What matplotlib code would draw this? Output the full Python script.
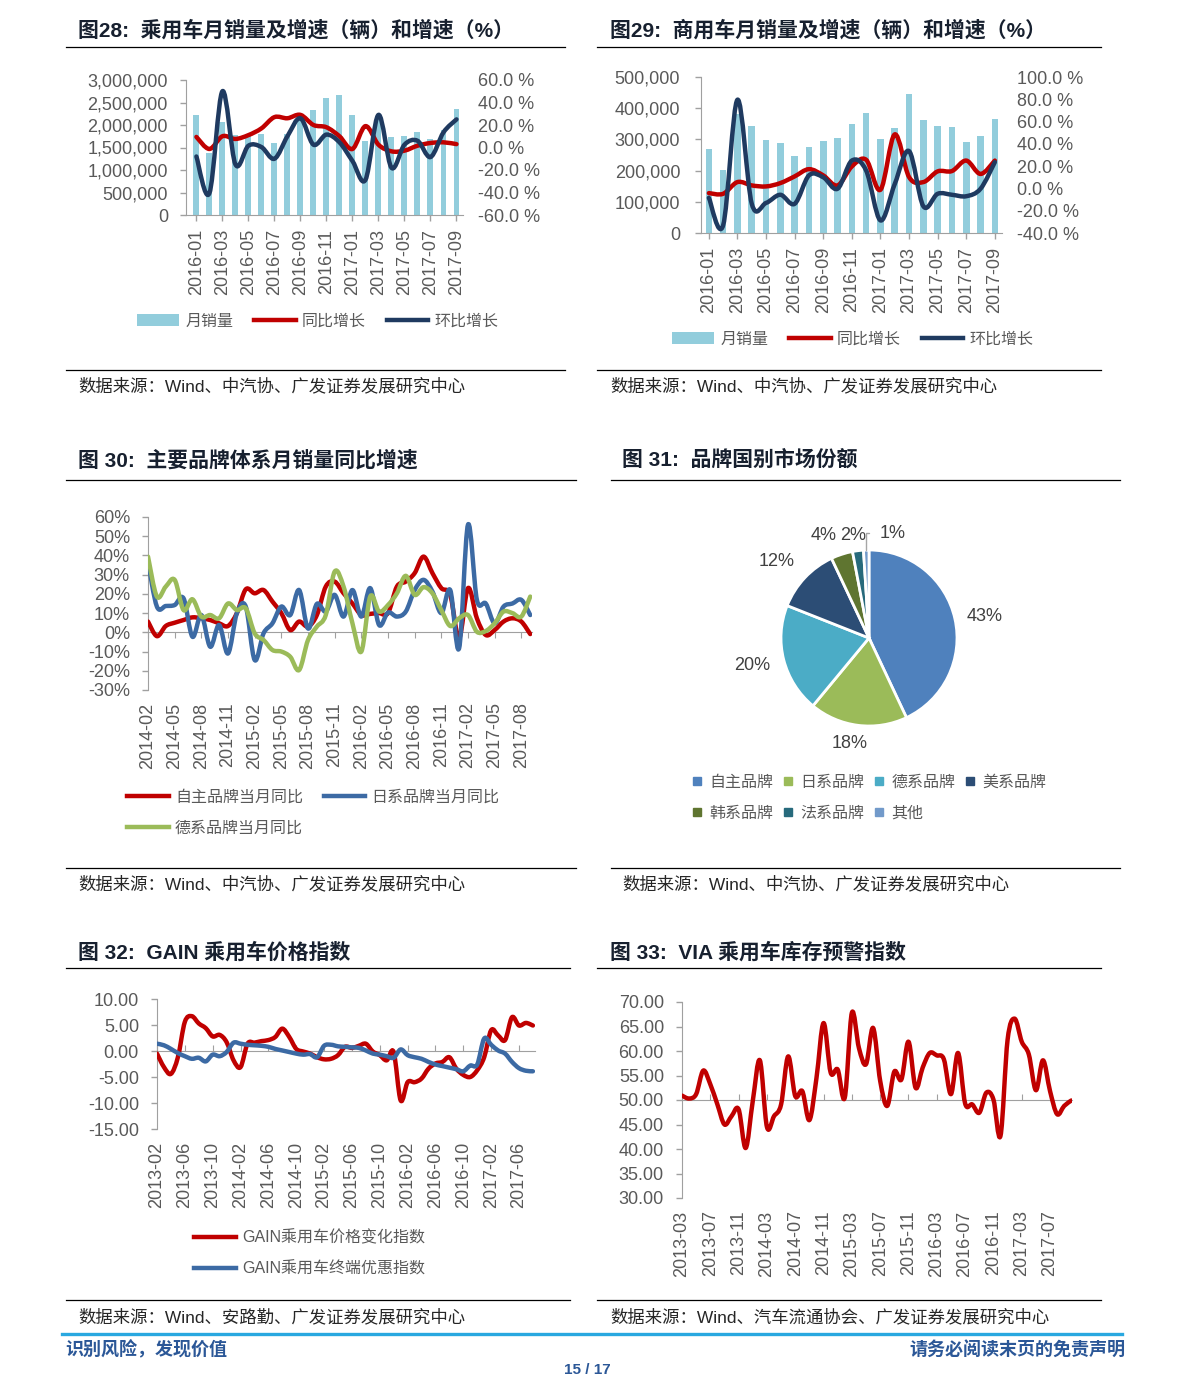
import numpy as np
import matplotlib.pyplot as plt
from matplotlib.path import Path
from matplotlib.patches import PathPatch, Patch
from matplotlib.lines import Line2D
from matplotlib.ticker import FuncFormatter

plt.rcParams['font.family'] = ['Liberation Sans', 'Noto Sans CJK SC']

W, H = 1191, 1379

# ---------------- data ----------------
# fig 28 / 29: 2016-01 .. 2017-09
ticks_1617 = ['2016-01', '2016-03', '2016-05', '2016-07', '2016-09', '2016-11',
              '2017-01', '2017-03', '2017-05', '2017-07', '2017-09']
pv_sales = [2230000, 1380000, 2060000, 1770000, 1750000, 1790000, 1610000,
            1800000, 2200000, 2340000, 2590000, 2670000, 2220000, 1640000,
            2140000, 1730000, 1760000, 1840000, 1680000, 1880000, 2350000]
pv_yoy = [9.4, -1.3, 10.0, 7.6, 11.0, 17.0, 27.0, 26.0, 29.0, 20.0, 18.0,
          10.0, -1.3, 19.0, 2.5, -3.4, -2.8, 1.6, 4.0, 4.6, 3.0]
pv_mom = [-8.0, -40.6, 50.0, -15.0, 1.6, 0.4, -10.0, 10.0, 26.0, 2.5, 11.5,
          4.6, -12.0, -28.7, 29.0, -18.0, 2.5, 6.0, -8.5, 13.5, 25.0]

cv_sales = [270000, 203000, 383000, 342000, 298000, 287000, 246000, 275000,
            295000, 306000, 349000, 385000, 300000, 335000, 446000, 362000,
            344000, 339000, 292000, 310000, 366000]
cv_yoy = [-4.2, -4.8, 5.7, 2.7, 1.8, 4.8, 10.8, 17.3, 11.7, 2.7, 19.7, 25.7,
          -1.2, 48.5, 10.2, 5.7, 15.3, 15.6, 25.0, 13.0, 25.0]
cv_mom = [-8.4, -33.0, 79.6, -13.8, -13.0, -5.7, -13.8, 11.7, 10.0, -0.3,
          25.0, 16.0, -28.7, 4.0, 33.5, -16.0, -4.8, -5.7, -7.0, -0.3, 23.6]

# fig 30: 2014-02 .. 2017-09
ticks_30 = ['2014-02', '2014-05', '2014-08', '2014-11', '2015-02', '2015-05',
            '2015-08', '2015-11', '2016-02', '2016-05', '2016-08', '2016-11',
            '2017-02', '2017-05', '2017-08']
cn_brand = [5.6, -2.0, 3.3, 5.0, 6.4, 7.8, 7.3, 6.4, 4.7, 3.3, 10.0, 22.4,
            20.3, 22.0, 16.0, 10.0, 1.2, 5.6, 3.0, 9.0, 23.8, 26.4, 20.3,
            15.0, 9.0, 9.6, 10.0, 10.0, 23.8, 26.4, 30.8, 39.4, 30.8, 23.0,
            19.5, -3.0, 23.0, 7.3, -1.4, 1.2, 5.6, 7.3, 5.6, -0.9]
jp_brand = [36.8, 13.4, 13.7, 14.2, 17.7, -2.3, 9.0, -7.5, 3.8, -11.0, 10.0,
            13.4, -14.4, -0.5, 4.7, 13.4, 9.0, 22.0, 2.0, 14.8, 10.8, 19.5,
            8.2, 22.0, 8.2, 23.0, 3.8, 10.3, 8.2, 10.8, 22.0, 27.3, 21.2,
            10.0, 22.0, -8.3, 56.0, 16.9, 15.0, 4.7, 13.4, 15.0, 16.9, 9.0]
de_brand = [39.4, 18.6, 23.8, 27.3, 11.6, 17.2, 8.2, 9.0, 7.3, 15.0, 11.6,
            12.5, -0.5, -4.0, -9.2, -10.0, -12.7, -19.6, -4.0, 3.0, 9.0,
            31.6, 23.8, 4.7, -10.0, 18.6, 10.8, 14.2, 20.3, 29.4, 19.5, 23.5,
            20.3, 11.6, 3.3, 7.3, 9.0, 0.3, 0.7, 4.7, 10.8, 10.0, 8.2, 18.6]

# fig 31
share_names = ['自主品牌', '日系品牌', '德系品牌', '美系品牌', '韩系品牌', '法系品牌', '其他']
share_vals = [43, 18, 20, 12, 4, 2, 1]
share_colors = ['#4F81BD', '#9BBB59', '#4BACC6', '#2C4D75', '#5F7530', '#276A7C', '#729ACA']

# fig 32: 2013-02 .. 2017-08
ticks_32 = ['2013-02', '2013-06', '2013-10', '2014-02', '2014-06', '2014-10',
            '2015-02', '2015-06', '2015-10', '2016-02', '2016-06', '2016-10',
            '2017-02', '2017-06']
gain_price = [-0.5, -3.1, -4.4, -1.2, 5.6, 6.7, 5.3, 4.4, 2.8, 3.1,
              1.7, -1.8, -3.1, 1.4, 1.6, 1.9, 2.1, 2.7, 4.3, 2.7,
              0.4, -0.1, -0.5, -1.2, -1.6, -1.5, -0.8, 0.8, 0.6, 1.0,
              1.4, -0.1, -0.8, -1.8, -0.2, -9.5, -6.0, -6.0, -5.3, -3.4,
              -2.4, -2.1, -1.2, -3.4, -4.6, -5.0, -3.7, -1.2, 4.0, 3.0,
              2.1, 6.5, 4.9, 5.4, 4.9]
gain_disc = [1.4, 1.1, 0.4, -0.4, -1.0, -1.5, -1.3, -2.0, -0.7, -1.0,
             -0.2, 1.6, 1.4, 1.2, 1.1, 1.0, 0.8, 0.4, 0.1, -0.2,
             -0.5, -0.7, -0.6, -1.2, 1.0, 1.2, 0.9, 0.8, 0.7, 0.6,
             0.1, -0.5, -0.7, -1.0, -1.3, 0.3, -0.8, -1.2, -1.5, -2.1,
             -2.6, -2.9, -3.2, -3.5, -3.9, -2.8, -2.6, 2.4, 1.2, 0.1,
             -0.5, -2.1, -3.3, -3.8, -3.9]

# fig 33: 2013-03 .. 2017-10
ticks_33 = ['2013-03', '2013-07', '2013-11', '2014-03', '2014-07', '2014-11',
            '2015-03', '2015-07', '2015-11', '2016-03', '2016-07', '2016-11',
            '2017-03', '2017-07']
via_index = [50.9, 50.3, 51.2, 56.0, 53.2, 49.1, 45.0, 46.7, 48.1, 40.2,
             49.8, 58.1, 44.5, 46.7, 49.1, 58.9, 50.8, 51.8, 45.9, 54.5,
             65.7, 55.6, 56.2, 50.5, 67.8, 60.6, 57.3, 64.7, 53.9, 48.8,
             55.8, 54.2, 61.9, 52.5, 56.6, 59.6, 59.1, 58.3, 51.2, 59.6,
             49.3, 49.1, 47.4, 51.5, 50.1, 42.7, 62.3, 66.6, 61.9, 59.3,
             52.0, 58.1, 51.8, 47.1, 48.8, 49.9]

# ---------------- style ----------------
BAR = '#92CDDC'
RED = '#C00000'
NAVY = '#1F3A60'
BLUE = '#3C6AA4'
GREEN = '#9BBB59'
GRID = '#A0A0A0'
TXT = '#595959'
TITLE = '#17202F'
LW = 3.2

fig = plt.figure(figsize=(W / 100, H / 100), dpi=100)


def box(l, t, r, b):
    return [l / W, 1 - b / H, (r - l) / W, (b - t) / H]


def fx(x):
    return x / W


def fy(y):
    return 1 - y / H


def hline(x0, x1, y, color='black', lw=0.9):
    fig.add_artist(Line2D([fx(x0), fx(x1)], [fy(y), fy(y)],
                          transform=fig.transFigure, color=color, lw=lw))


def smooth(ax, y, color, lw=LW, z=3):
    # excel-style smoothed line drawn as a bezier path through the points
    pts = np.column_stack([np.arange(len(y)), np.asarray(y, float)])
    ext = np.vstack([pts[0], pts, pts[-1]])
    verts, codes = [pts[0]], [Path.MOVETO]
    for i in range(len(pts) - 1):
        p0, p1, p2, p3 = ext[i], ext[i + 1], ext[i + 2], ext[i + 3]
        verts += [p1 + (p2 - p0) / 6, p2 - (p3 - p1) / 6, p2]
        codes += [Path.CURVE4] * 3
    ax.add_patch(PathPatch(Path(verts, codes), fill=False, edgecolor=color,
                           lw=lw, capstyle='round', joinstyle='round', zorder=z))


def base_style(ax, ypad=9):
    for s in ['top', 'right']:
        ax.spines[s].set_visible(False)
    for s in ['left', 'bottom']:
        ax.spines[s].set_color(GRID)
    ax.tick_params(colors=GRID, labelcolor=TXT, labelsize=13, length=4, width=1)
    ax.tick_params(axis='y', pad=ypad)
    ax.tick_params(axis='x', pad=6)


def zero_axis(ax, lo, hi, at, ticks):
    # category axis crossing at a value, labels kept at the bottom
    ax.spines['bottom'].set_visible(False)
    ax.tick_params(axis='x', length=0, pad=9)
    sec = ax.secondary_xaxis((at - lo) / (hi - lo))
    sec.set_xticks(ticks)
    sec.set_xticklabels([])
    sec.tick_params(axis='x', length=4, color=GRID)
    for s in sec.spines.values():
        s.set_color(GRID)


def legend(handles, labels, x, y, loc, ncol, **kw):
    opts = dict(frameon=False, fontsize=11.5, handlelength=2.6, handletextpad=0.4,
                columnspacing=1.2, labelcolor=TXT, borderaxespad=0, borderpad=0)
    opts.update(kw)
    fig.legend(handles, labels, loc=loc, bbox_to_anchor=(fx(x), fy(y)), ncol=ncol, **opts)


def title(x, y, s):
    fig.text(fx(x), fy(y), s, fontsize=15, fontweight='bold', color=TITLE,
             ha='left', va='center')


def source(x, y, s):
    fig.text(fx(x), fy(y), s, fontsize=12.5, color='#262626', ha='left', va='center')


# ---------------- titles, rules, sources ----------------
title(78, 30, '图28:  乘用车月销量及增速（辆）和增速（%）')
title(610, 30, '图29:  商用车月销量及增速（辆）和增速（%）')
title(78, 460, '图 30:  主要品牌体系月销量同比增速')
title(622, 460, '图 31:  品牌国别市场份额')
title(78, 952, '图 32:  GAIN 乘用车价格指数')
title(610, 952, '图 33:  VIA 乘用车库存预警指数')
for x0, x1, y in [(66, 565, 47), (597, 1101, 47), (66, 565, 370), (597, 1101, 370),
                  (66, 576, 480), (611, 1120, 480), (66, 576, 868), (611, 1120, 868),
                  (66, 570, 968), (597, 1101, 968), (66, 570, 1300), (597, 1101, 1300)]:
    hline(x0, x1, y)
src_main = '数据来源：Wind、中汽协、广发证券发展研究中心'
source(78, 386, src_main)
source(610, 386, src_main)
source(78, 884, src_main)
source(622, 884, src_main)
source(78, 1317, '数据来源：Wind、安路勤、广发证券发展研究中心')
source(610, 1317, '数据来源：Wind、汽车流通协会、广发证券发展研究中心')

# footer
hline(62, 1122, 1334, color='#29A8E0', lw=2.4)
fig.text(fx(65), fy(1350), '识别风险，发现价值', fontsize=13, fontweight='bold',
         color='#2B5797', ha='left', va='center')
fig.text(fx(1125), fy(1350), '请务必阅读末页的免责声明', fontsize=13, fontweight='bold',
         color='#2B5797', ha='right', va='center')
fig.text(fx(587), fy(1370), '15 / 17', fontsize=11, fontweight='bold',
         color='#2B5797', ha='center', va='center')


# ---------------- fig 28 / 29 ----------------
def sales_chart(rect, sales, yoy, mom, ymax, ystep, rlo, rhi, xl, ypad, legend_xy):
    ax = fig.add_axes(box(*rect))
    base_style(ax, ypad)
    x = np.arange(len(sales))
    ax.bar(x, sales, width=0.46, color=BAR, zorder=2)
    ax.set_xlim(xl, len(sales) - 0.5)
    ax.set_ylim(0, ymax)
    ax.set_yticks(np.arange(0, ymax + 1, ystep))
    ax.yaxis.set_major_formatter(FuncFormatter(lambda v, p: f'{v:,.0f}'))
    ax.set_xticks(x[::2])
    ax.set_xticklabels(ticks_1617, rotation=90)
    ax2 = ax.twinx()
    ax2.set_ylim(rlo, rhi)
    ax2.set_yticks(np.arange(rlo, rhi + 1, 20))
    ax2.yaxis.set_major_formatter(FuncFormatter(lambda v, p: f'{v:.1f} %'))
    for s in ax2.spines.values():
        s.set_visible(False)
    ax2.tick_params(axis='y', length=0, pad=11, labelsize=13, labelcolor=TXT)
    smooth(ax2, yoy, RED)
    smooth(ax2, mom, NAVY)
    legend([Patch(facecolor=BAR), Line2D([], [], color=RED, lw=LW),
            Line2D([], [], color=NAVY, lw=LW)],
           ['月销量', '同比增长', '环比增长'], legend_xy[0], legend_xy[1], 'center', 3,
           columnspacing=1.3)


sales_chart((186, 80, 463, 215), pv_sales, pv_yoy, pv_mom, 3000000, 500000,
            -60, 60, -0.8, 9, (318, 321))
sales_chart((701, 77, 1002, 233), cv_sales, cv_yoy, cv_mom, 500000, 100000,
            -40, 100, -0.55, 11, (853, 339))

# ---------------- fig 30 ----------------
ax = fig.add_axes(box(148, 517, 532, 690))
base_style(ax)
ax.set_ylim(-30, 60)
ax.set_yticks(np.arange(-30, 61, 10))
ax.yaxis.set_major_formatter(FuncFormatter(lambda v, p: f'{v:.0f}%'))
ax.set_xlim(0, len(cn_brand) - 0.8)
t30 = np.arange(0, len(cn_brand), 3)
ax.set_xticks(t30)
ax.set_xticklabels(ticks_30, rotation=90)
zero_axis(ax, -30, 60, 0, t30)
smooth(ax, cn_brand, RED)
smooth(ax, jp_brand, BLUE)
smooth(ax, de_brand, GREEN)
legend([Line2D([], [], color=RED, lw=LW), Line2D([], [], color=GREEN, lw=LW),
        Line2D([], [], color=BLUE, lw=LW)],
       ['自主品牌当月同比', '德系品牌当月同比', '日系品牌当月同比'],
       127, 790, 'upper left', 2, labelspacing=1.0, columnspacing=1.3)

# ---------------- fig 31 ----------------
ax = fig.add_axes(box(781, 550, 957, 726))
wedges, _ = ax.pie(share_vals, colors=share_colors, startangle=90, counterclock=False,
                   wedgeprops=dict(edgecolor='white', linewidth=2))
ax.set_xlim(-1, 1)
ax.set_ylim(-1, 1)
lab_dist = [1.34, 1.22, 1.36, 1.36, 1.28, 1.18]
lab_shift = [-2, -3, -1, 3.5, 6, 1.6]
for w, v, d, sh in zip(wedges[:6], share_vals[:6], lab_dist, lab_shift):
    a = np.deg2rad((w.theta1 + w.theta2) / 2 + sh)
    ax.text(d * np.cos(a), d * np.sin(a), f'{v}%', fontsize=13, color='#404040',
            ha='center', va='center')
w = wedges[6]
a = np.deg2rad((w.theta1 + w.theta2) / 2)
ax.annotate(f'{share_vals[6]}%', xy=(np.cos(a), np.sin(a)), xytext=(0.27, 1.19),
            fontsize=13, color='#404040', ha='center', va='center',
            arrowprops=dict(arrowstyle='-', color='#A6A6A6', lw=1,
                            shrinkA=6, shrinkB=0,
                            connectionstyle='angle,angleA=0,angleB=90,rad=0'))
order = [0, 4, 1, 5, 2, 6, 3]
legend([Line2D([], [], color=share_colors[i], marker='s', ms=6, ls='none') for i in order],
       [share_names[i] for i in order], 691, 775, 'upper left', 4,
       handlelength=0.7, handletextpad=0.45, columnspacing=0.55, labelspacing=1.0)

# ---------------- fig 32 ----------------
ax = fig.add_axes(box(157, 999, 535, 1129))
base_style(ax)
ax.set_ylim(-15, 10)
ax.set_yticks(np.arange(-15, 11, 5))
ax.yaxis.set_major_formatter(FuncFormatter(lambda v, p: f'{v:.2f}'))
ax.set_xlim(0, len(gain_price) - 0.7)
t32 = np.arange(0, len(gain_price), 4)
ax.set_xticks(t32)
ax.set_xticklabels(ticks_32, rotation=90)
zero_axis(ax, -15, 10, 0, t32)
smooth(ax, gain_price, RED)
smooth(ax, gain_disc, BLUE)
legend([Line2D([], [], color=RED, lw=LW), Line2D([], [], color=BLUE, lw=LW)],
       ['GAIN乘用车价格变化指数', 'GAIN乘用车终端优惠指数'], 194, 1230, 'upper left', 1,
       labelspacing=0.95)

# ---------------- fig 33 ----------------
ax = fig.add_axes(box(682, 1002, 1072, 1198))
base_style(ax)
ax.set_ylim(30, 70)
ax.set_yticks(np.arange(30, 71, 5))
ax.yaxis.set_major_formatter(FuncFormatter(lambda v, p: f'{v:.2f}'))
ax.set_xlim(0, len(via_index) - 0.9)
t33 = np.arange(0, len(via_index), 4)
ax.set_xticks(t33[:len(ticks_33)])
ax.set_xticklabels(ticks_33, rotation=90)
zero_axis(ax, 30, 70, 50, t33[:len(ticks_33)])
smooth(ax, via_index, RED)

fig.savefig('out.png', dpi=100)
